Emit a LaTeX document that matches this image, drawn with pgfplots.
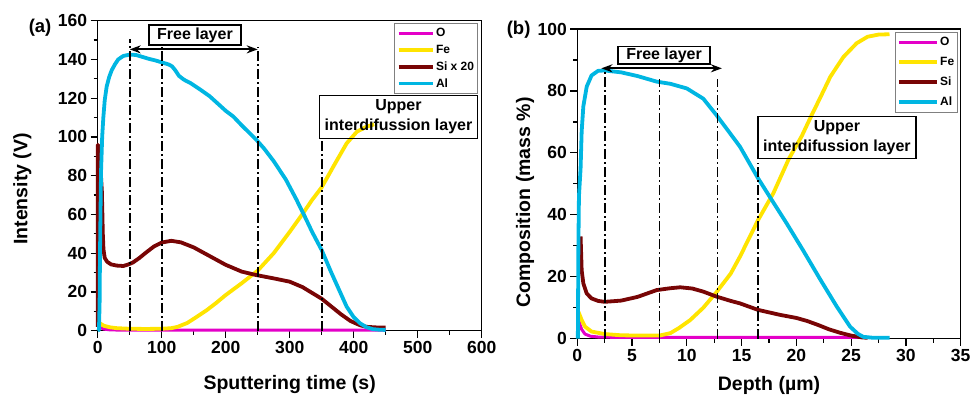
\documentclass[border=0pt]{standalone}
\usepackage{fontspec}
\setmainfont{Liberation Sans}
\usepackage{pgfplots}
\pgfplotsset{compat=1.18}
\usetikzlibrary{arrows.meta}

\definecolor{cO}{RGB}{228,0,200}
\definecolor{cFe}{RGB}{255,228,0}
\definecolor{cSi}{RGB}{120,5,5}
\definecolor{cAl}{RGB}{0,182,226}

\pgfplotsset{
  myax/.style={
    scale only axis,
    clip=false,
    axis line style={line width=1.3pt},
    every tick/.style={black, line width=1.2pt},
    major tick length=7pt, minor tick length=4pt,
    tick align=outside,
    xtick pos=left, ytick pos=left,
    minor x tick num=1, minor y tick num=1,
    /pgf/number format/assume math mode=true,
    xticklabel={\bfseries\pgfmathprintnumber{\tick}},
    yticklabel={\bfseries\pgfmathprintnumber{\tick}},
    tick label style={font=\fontsize{17.5}{19}\selectfont\bfseries},
    label style={font=\fontsize{19.5}{22}\selectfont\bfseries},
    legend cell align=left,
    legend style={font=\fontsize{12}{13}\selectfont\bfseries, draw=gray, line width=0.6pt,
      nodes={inner sep=1.5pt, text height=9pt, text depth=2pt}, inner xsep=2pt, inner ysep=3pt},
    every axis plot/.append style={line width=3.8pt, line join=round},
  },
  vline/.style={black, line width=1.8pt, dash pattern=on 10pt off 3pt on 2pt off 3pt, forget plot},
}
\tikzset{
  boxlab/.style={draw, line width=1.2pt, inner sep=0pt, align=center, font=\fontsize{16}{20}\selectfont\bfseries},
}

\begin{document}
\begin{tikzpicture}
\useasboundingbox (0,0) rectangle (971pt,395pt);

% ---------------- panel (a)
\begin{axis}[myax,
  at={(97.7pt,64.3pt)}, anchor=south west,
  width=384pt, height=310pt,
  xmin=0, xmax=600, ymin=0, ymax=160,
  xtick={0,100,...,600}, ytick={0,20,...,160},
  xlabel={Sputtering time (s)}, ylabel={Intensity (V)},
  xlabel style={at={(axis description cs:0.5,-0.175)}, anchor=center},
  ylabel style={at={(axis description cs:-0.196,0.457)}, anchor=center},
  legend style={at={(0.99,0.993)}, anchor=north east, row sep=2.8pt},
  legend image code/.code={\draw[#1] (0pt,0pt) -- (34pt,0pt);},
]
\addplot[cO, line width=3pt] coordinates {(0,3) (2,2.5) (5,1.5) (10,0.8) (20,0.4) (40,0.3) (100,0.3) (200,0.3) (300,0.3) (400,0.3) (450,0.3)};
\addlegendentry{O}
\addplot[cFe] coordinates {(0,4.5) (5,3.5) (10,2.5) (20,1.7) (30,1.3) (50,1.0) (75,0.9) (100,1.0) (115,1.3) (125,2) (140,4) (155,7.2) (170,10.5) (185,14.3) (200,18.4) (225,24.5) (250,31) (275,40) (300,51) (321,60.7) (335,67.5) (350,74) (368,84.6) (389,96.7) (405,102.7) (420,105.3) (432,106.5)};
\addlegendentry{Fe}
\addplot[cSi] coordinates {(0,2) (0.3,96) (1.5,92) (3,86) (5,80.5) (6.5,72) (8,50) (9,42) (11,37.5) (15,35.5) (21,34.2) (30,33.6) (40,33.4) (48,34.2) (55,35.2) (65,37.5) (75,40.2) (88,43.5) (100,45.5) (115,46.4) (130,45.6) (150,43) (175,38.5) (200,34) (225,30.5) (248,28.7) (275,27) (300,25.3) (320,22.5) (335,19.5) (350,16.5) (365,12.5) (380,8.5) (395,5) (410,2.8) (420,2) (435,1.7) (450,1.6)};
\addlegendentry{Si x 20}
\addplot[cAl] coordinates {(0,0) (2,0.5) (3,15) (3.6,40) (5.2,82) (7,100) (8.8,110) (11,119) (14,126) (18,131) (22,134.5) (27,137.5) (32,140) (40,141.8) (50,142.5) (60,142.3) (70,141.3) (80,140.3) (90,139.5) (100,138.5) (110,137.5) (116,136.5) (121,134.5) (127,131.5) (135,129.5) (145,127.8) (160,124.5) (175,121) (190,116.5) (200,113.5) (212,110.5) (225,106) (248,98.5) (260,94) (275,87.5) (294,78) (310,68) (321,60.7) (335,51) (350,41.6) (365,30) (380,19) (389,12.4) (400,7) (410,3.8) (420,1.8) (430,0.8) (440,0.5) (450,0.4)};
\addlegendentry{Al}
\addplot[vline] coordinates {(50,0) (50,150.4)};
\addplot[vline] coordinates {(100,0) (100,146.6)};
\addplot[vline] coordinates {(250,0) (250,146.5)};
\addplot[vline] coordinates {(350,0) (350,98.4)};
\draw[{Stealth[length=11pt,width=8pt]}-{Stealth[length=11pt,width=8pt]}, line width=1.8pt] (axis cs:50,145.2) -- (axis cs:250,145.2);
\node[boxlab, minimum width=92pt, minimum height=20pt] at (axis cs:152,152.6) {Free layer};
\node[boxlab, minimum width=158pt, minimum height=43pt] at (axis cs:470,110.4) {Upper\\interdifussion layer};
\node[font=\fontsize{18.5}{20}\selectfont\bfseries] at (axis description cs:-0.150,0.976) {(a)};
\end{axis}

% ---------------- panel (b)
\begin{axis}[myax,
  at={(577.3pt,56.3pt)}, anchor=south west,
  width=383.4pt, height=309.7pt,
  xmin=0, xmax=35, ymin=0, ymax=100,
  xtick={0,5,...,35}, ytick={0,20,...,100},
  xlabel={Depth (µm)}, ylabel={Composition (mass \%)},
  xlabel style={at={(axis description cs:0.5,-0.15)}, anchor=center},
  ylabel style={at={(axis description cs:-0.136,0.44)}, anchor=center},
  legend style={at={(0.993,0.991)}, anchor=north east, row sep=6pt},
  legend image code/.code={\draw[#1] (0pt,0pt) -- (38pt,0pt);},
]
\addplot[cO, line width=3pt] coordinates {(0.1,7) (0.2,5) (0.4,3) (0.7,1.5) (1.2,0.8) (2,0.5) (5,0.4) (10,0.4) (20,0.4) (26,0.4)};
\addlegendentry{O}
\addplot[cFe] coordinates {(0.1,8.7) (0.4,6) (0.7,3.9) (1.3,2.3) (2.5,1.5) (4,1.1) (6,1.0) (7.5,1.0) (8.5,1.8) (9.3,3.5) (10.3,6) (11.5,10) (12.7,15) (14,21) (14.85,26.5) (16.5,38.3) (17.9,47) (19.3,58) (20.5,65.5) (21.3,71.5) (22.2,78) (23.1,84.6) (24.3,91) (25.5,95.4) (26.5,97.5) (27.5,98.2) (28.5,98.3)};
\addlegendentry{Fe}
\addplot[cSi] coordinates {(0.3,33) (0.4,22) (0.55,17.9) (0.86,14.6) (1.3,13) (1.9,12.2) (2.5,11.9) (4,12.3) (5.5,13.5) (7.25,15.7) (8.5,16.3) (9.4,16.6) (10.5,16.2) (11.5,15.2) (12.7,13.6) (14,12.2) (14.85,11.4) (16.5,9.3) (18.5,7.7) (20,6.7) (21,5.7) (22,4.4) (23,3.0) (24,1.9) (25,1.0) (26,0.4) (26.5,0.3)};
\addlegendentry{Si}
\addplot[cAl] coordinates {(0.05,0) (0.1,30) (0.15,46) (0.3,55) (0.4,67) (0.55,75) (0.86,81.4) (1.3,85) (1.9,86.5) (2.5,86.6) (4,86) (5.5,84.8) (7.25,83) (8.5,82.3) (10,80.8) (11.5,77.5) (12.7,72.2) (13.8,67) (14.85,62) (16.5,51.8) (17.75,44.8) (19.1,37.3) (20.6,28.6) (22.2,19) (23.7,10.3) (24.9,3.9) (25.6,1.6) (26.1,0.6) (27,0.3) (28.5,0.3)};
\addlegendentry{Al}
\addplot[vline] coordinates {(2.5,0) (2.5,87)};
\addplot[vline] coordinates {(7.5,0) (7.5,84)};
\addplot[vline] coordinates {(12.8,0) (12.8,84)};
\addplot[vline] coordinates {(16.5,0) (16.5,56.7)};
\draw[{Stealth[length=11pt,width=8pt]}-{Stealth[length=11pt,width=8pt]}, line width=1.8pt] (axis cs:2.2,87.3) -- (axis cs:13.2,87.3);
\node[boxlab, minimum width=92pt, minimum height=17.5pt] at (axis cs:7.92,91.5) {Free layer};
\node[boxlab, minimum width=158pt, minimum height=42pt] at (axis cs:23.7,65) {Upper\\interdifussion layer};
\node[font=\fontsize{18.5}{20}\selectfont\bfseries] at (axis description cs:-0.153,0.997) {(b)};
\end{axis}
\end{tikzpicture}
\end{document}
